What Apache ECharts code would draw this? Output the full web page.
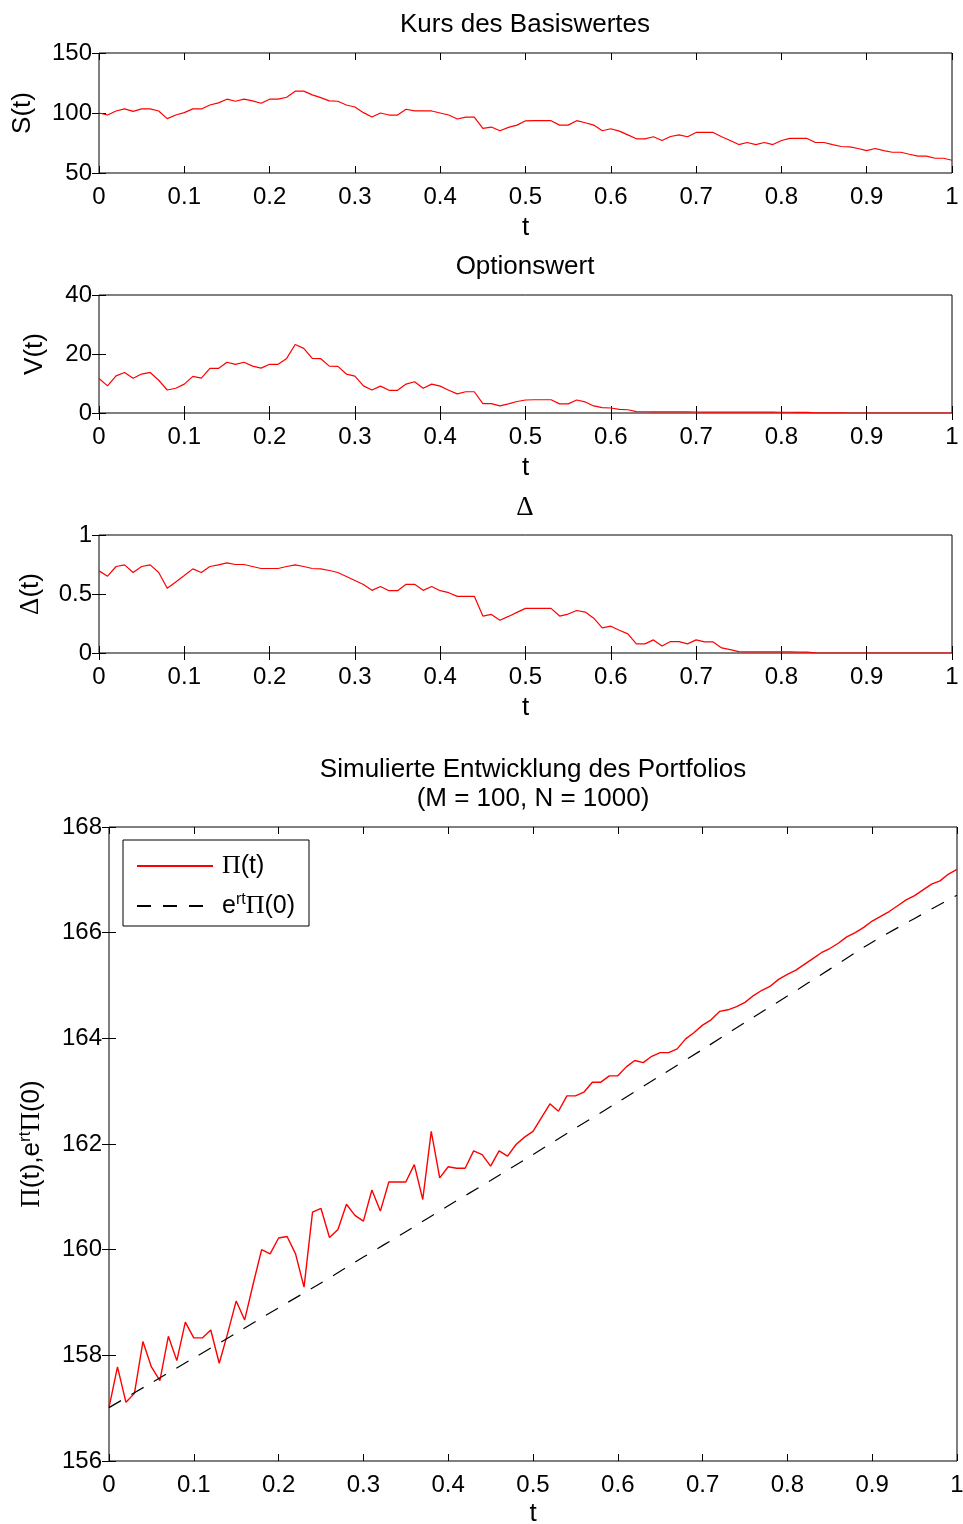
<!DOCTYPE html>
<html>
<head>
<meta charset="utf-8">
<script src="https://cdn.jsdelivr.net/npm/echarts@6/dist/echarts.min.js"></script>
<style>
html,body{margin:0;padding:0;background:#fff;}
#chart{width:963px;height:1524px;}
</style>
</head>
<body>
<div id="chart"></div>
<script>
// Number of time steps (x grid t = 0, 0.01, ..., 1)
const M = 100;
const tTicks = [0, 0.1, 0.2, 0.3, 0.4, 0.5, 0.6, 0.7, 0.8, 0.9, 1];

// Kurs des Basiswertes S(t)
const S = [
  100.0, 98.3, 101.7, 103.4, 101.4, 103.4, 103.4, 101.7, 95.3, 98.3,
  100.3, 103.4, 103.4, 106.7, 108.4, 111.5, 109.8, 111.5, 110.1, 108.1,
  111.5, 111.5, 113.1, 118.2, 118.2, 115.1, 112.8, 110.1, 109.8, 106.7,
  105.0, 100.3, 96.6, 100.0, 98.3, 98.3, 103.1, 101.7, 101.7, 101.7,
  100.0, 98.3, 95.0, 96.6, 96.6, 87.2, 88.3, 85.2, 88.0, 89.9,
  93.5, 93.6, 93.6, 93.6, 89.9, 89.9, 93.6, 91.9, 89.9, 85.2,
  86.9, 84.9, 81.8, 78.5, 78.5, 80.2, 77.1, 80.4, 81.8, 80.2,
  83.8, 83.8, 83.8, 80.2, 77.1, 73.7, 75.4, 73.7, 75.4, 73.7,
  77.1, 78.8, 78.8, 78.8, 75.4, 75.4, 73.7, 72.1, 71.8, 70.4,
  68.7, 70.4, 68.7, 67.3, 67.3, 65.6, 64.0, 64.0, 62.3, 62.3,
  60.6
];

// Optionswert V(t)
const V = [
  11.7, 9.2, 12.6, 13.75, 11.8, 13.2, 13.75, 11.1, 7.8, 8.4,
  9.8, 12.4, 11.8, 15.1, 15.1, 17.2, 16.5, 17.2, 15.9, 15.2,
  16.5, 16.5, 18.5, 23.2, 21.9, 18.5, 18.4, 15.9, 15.8, 13.2,
  12.5, 9.2, 7.8, 9.1, 7.7, 7.7, 9.8, 10.6, 8.4, 9.8,
  9.1, 7.7, 6.5, 7.2, 7.2, 3.2, 3.2, 2.4, 3.1, 3.9,
  4.4, 4.5, 4.5, 4.5, 3.1, 3.1, 4.4, 3.75, 2.4, 1.8,
  1.7, 1.25, 1.1, 0.45, 0.42, 0.4, 0.38, 0.37, 0.36, 0.35,
  0.34, 0.33, 0.32, 0.31, 0.3, 0.3, 0.29, 0.28, 0.28, 0.27,
  0.26, 0.25, 0.24, 0.2, 0.03, 0.02, 0.01, 0.01, 0.0, 0.0,
  0.0, 0.0, 0.0, 0.0, 0.0, 0.0, 0.0, 0.0, 0.0, 0.0,
  0.0
];

// Delta(t)
const D = [
  0.696, 0.651, 0.733, 0.747, 0.682, 0.733, 0.747, 0.682, 0.548, 0.602,
  0.656, 0.713, 0.682, 0.733, 0.747, 0.764, 0.750, 0.750, 0.733, 0.716,
  0.716, 0.716, 0.733, 0.747, 0.733, 0.716, 0.713, 0.699, 0.682, 0.648,
  0.614, 0.580, 0.531, 0.563, 0.528, 0.528, 0.582, 0.582, 0.531, 0.563,
  0.528, 0.511, 0.480, 0.480, 0.480, 0.313, 0.327, 0.278, 0.310, 0.344,
  0.378, 0.378, 0.378, 0.378, 0.313, 0.330, 0.360, 0.347, 0.295, 0.213,
  0.227, 0.193, 0.162, 0.077, 0.077, 0.111, 0.060, 0.097, 0.097, 0.077,
  0.111, 0.094, 0.094, 0.043, 0.028, 0.011, 0.010, 0.010, 0.010, 0.010,
  0.009, 0.009, 0.008, 0.007, 0.001, 0.0, 0.0, 0.0, 0.0, 0.0,
  0.0, 0.0, 0.0, 0.0, 0.0, 0.0, 0.0, 0.0, 0.0, 0.0,
  0.0
];

// Portfolio Pi(t)
const PI = [
  157.01, 157.78, 157.11, 157.28, 158.26, 157.78, 157.52, 158.36, 157.90, 158.63,
  158.33, 158.33, 158.48, 157.85, 158.42, 159.03, 158.67, 159.35, 160.00, 159.92,
  160.22, 160.25, 159.92, 159.29, 160.71, 160.78, 160.23, 160.38, 160.86, 160.65,
  160.54, 161.13, 160.73, 161.28, 161.28, 161.28, 161.61, 160.95, 162.24, 161.36,
  161.57, 161.54, 161.54, 161.87, 161.80, 161.58, 161.87, 161.77, 161.99, 162.13,
  162.24, 162.50, 162.76, 162.62, 162.91, 162.91, 162.98, 163.17, 163.17, 163.29,
  163.29, 163.46, 163.58, 163.54, 163.66, 163.73, 163.73, 163.80, 163.99, 164.11,
  164.25, 164.35, 164.51, 164.54, 164.60, 164.68, 164.81, 164.91, 164.99, 165.12,
  165.21, 165.29, 165.40, 165.51, 165.62, 165.70, 165.80, 165.92, 166.00, 166.10,
  166.22, 166.31, 166.40, 166.51, 166.62, 166.70, 166.81, 166.92, 166.98, 167.11,
  167.20
];

// e^{rt} Pi(0), read at t = 0, 0.05, ..., 1
const tRef = [0, 0.05, 0.1, 0.15, 0.2, 0.25, 0.3, 0.35, 0.4, 0.45, 0.5, 0.55, 0.6, 0.65, 0.7, 0.75, 0.8, 0.85, 0.9, 0.95, 1];
const ERT = [157.01, 157.48, 157.95, 158.42, 158.90, 159.37, 159.86, 160.34, 160.83, 161.31, 161.80, 162.30, 162.79, 163.29, 163.79, 164.30, 164.80, 165.31, 165.82, 166.27, 166.71];

const t = [];
for (let i = 0; i <= M; i++) t.push(i / M);
const pairs = (xs, ys) => xs.map((x, i) => [x, ys[i]]);

const FONT = 'Liberation Sans';
const SERIF = 'Liberation Serif';
const TICK_FS = 24;
const LABEL_FS = 26;

const grids = [
  {left: 99, top: 53, width: 853, height: 120},
  {left: 99, top: 295, width: 853, height: 118},
  {left: 99, top: 535, width: 853, height: 118},
  {left: 109, top: 827, width: 848, height: 634}
];
const yDefs = [
  {min: 50, max: 150, interval: 50, name: 'S(t)', gap: 63},
  {min: 0, max: 40, interval: 20, name: 'V(t)', gap: 51},
  {min: 0, max: 1, interval: 0.5, name: '{s|Δ}(t)', gap: 55},
  {min: 156, max: 168, interval: 2, name: '{s|Π}(t),e{sup|rt}{s|Π}(0)', gap: 62}
];
const xNameGap = [42, 42, 42, 40];

const richName = {
  s: {fontFamily: SERIF, fontSize: 27, color: '#000'},
  sup: {fontFamily: FONT, fontSize: 17, color: '#000', padding: [0, 0, 13, 0]}
};
const richLegend = {
  s: {fontFamily: SERIF, fontSize: 26, color: '#000'},
  sup: {fontFamily: FONT, fontSize: 16, color: '#000', padding: [0, 0, 12, 0]}
};

const tick = {show: true, inside: true, length: 7, lineStyle: {color: '#000', width: 1}};
const label = {color: '#000', fontSize: TICK_FS, fontFamily: FONT};

const xAxis = [], yAxis = [];
grids.forEach((g, k) => {
  xAxis.push({
    type: 'value', gridIndex: k, min: 0, max: 1, interval: 0.1, position: 'bottom',
    axisLine: {show: false}, axisTick: tick, splitLine: {show: false},
    axisLabel: Object.assign({margin: 12}, label),
    name: 't', nameLocation: 'middle', nameGap: xNameGap[k],
    nameTextStyle: {color: '#000', fontSize: LABEL_FS, fontFamily: FONT}
  });
  xAxis.push({
    type: 'value', gridIndex: k, min: 0, max: 1, interval: 0.1, position: 'top',
    axisLine: {show: false}, axisTick: tick, splitLine: {show: false},
    axisLabel: {show: false}
  });
  const y = yDefs[k];
  yAxis.push({
    type: 'value', gridIndex: k, min: y.min, max: y.max, interval: y.interval, position: 'left',
    axisLine: {show: false}, axisTick: tick, splitLine: {show: false},
    axisLabel: Object.assign({margin: 7}, label),
    name: y.name, nameLocation: 'middle', nameGap: y.gap, nameRotate: 90,
    nameTextStyle: {color: '#000', fontSize: LABEL_FS, fontFamily: FONT, rich: richName}
  });
  yAxis.push({
    type: 'value', gridIndex: k, min: y.min, max: y.max, interval: y.interval, position: 'right',
    axisLine: {show: false}, axisTick: tick, splitLine: {show: false},
    axisLabel: {show: false}
  });
});

const titleStyle = {color: '#000', fontSize: LABEL_FS, fontWeight: 'normal', fontFamily: FONT, lineHeight: 29,
  rich: {s: {fontFamily: SERIF, fontSize: 27, color: '#000'}}};

const option = {
  animation: false,
  backgroundColor: '#fff',
  title: [
    {text: 'Kurs des Basiswertes', left: 525, top: 10, textAlign: 'center', padding: 0, textStyle: titleStyle},
    {text: 'Optionswert', left: 525, top: 252, textAlign: 'center', padding: 0, textStyle: titleStyle},
    {text: '{s|Δ}', left: 525, top: 493, textAlign: 'center', padding: 0, textStyle: titleStyle},
    {text: 'Simulierte Entwicklung des Portfolios\n(M = 100, N = 1000)', left: 533, top: 755, textAlign: 'center', padding: 0, textStyle: titleStyle}
  ],
  grid: grids.map(g => Object.assign({show: true, borderColor: '#000', borderWidth: 1, backgroundColor: '#fff',
    containLabel: false, outerBoundsMode: 'none'}, g)),
  xAxis: xAxis,
  yAxis: yAxis,
  legend: {
    left: 123, top: 840, orient: 'vertical',
    data: ['Pi', 'ert'],
    itemWidth: 76, itemHeight: 14, itemGap: 13,
    padding: [13, 14, 7, 13],
    itemStyle: {opacity: 0},
    borderColor: '#000', borderWidth: 1, backgroundColor: '#fff',
    formatter: n => n === 'Pi' ? '{s|Π}(t)' : 'e{sup|rt}{s|Π}(0)',
    textStyle: {color: '#000', fontSize: 25, fontFamily: FONT, padding: [0, 0, 0, 4], rich: richLegend}
  },
  series: [
    {type: 'line', xAxisIndex: 0, yAxisIndex: 0, data: pairs(t, S), symbol: 'none',
     lineStyle: {color: '#ff0000', width: 1.2}, itemStyle: {color: '#ff0000'}},
    {type: 'line', xAxisIndex: 2, yAxisIndex: 2, data: pairs(t, V), symbol: 'none',
     lineStyle: {color: '#ff0000', width: 1.2}, itemStyle: {color: '#ff0000'}},
    {type: 'line', xAxisIndex: 4, yAxisIndex: 4, data: pairs(t, D), symbol: 'none',
     lineStyle: {color: '#ff0000', width: 1.2}, itemStyle: {color: '#ff0000'}},
    {name: 'Pi', type: 'line', xAxisIndex: 6, yAxisIndex: 6, data: pairs(t, PI), symbol: 'none',
     lineStyle: {color: '#ff0000', width: 1.4}, itemStyle: {color: '#ff0000'}},
    {name: 'ert', type: 'line', xAxisIndex: 6, yAxisIndex: 6, data: pairs(tRef, ERT), symbol: 'none', smooth: 0.3,
     lineStyle: {color: '#000', width: 1.2, type: [14, 12]}, itemStyle: {color: '#000'}}
  ]
};

const chart = echarts.init(document.getElementById('chart'), null, {renderer: 'canvas'});
chart.setOption(option);
</script>
</body>
</html>
